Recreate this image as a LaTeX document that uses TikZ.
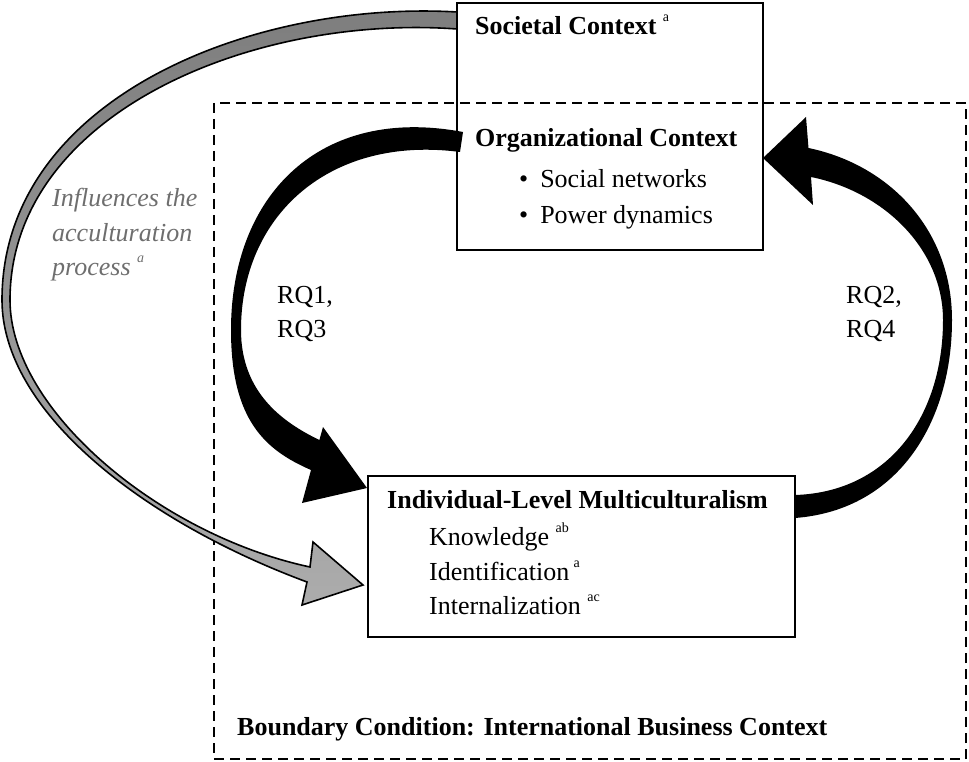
\documentclass[tikz,border=0pt]{standalone}
\usepackage{fontspec}
\setmainfont{Liberation Serif}
\definecolor{garrowtop}{RGB}{125,125,125}
\definecolor{garrowbot}{RGB}{172,172,172}
\definecolor{infltext}{RGB}{110,110,110}
\newcommand\mysup[1]{\raisebox{0.5em}{\fontsize{14}{14}\selectfont #1}}
\begin{document}
\begin{tikzpicture}[x=1pt,y=-1pt,
  box/.style={draw, line width=1.8pt, inner sep=0pt},
  boundbox/.style={draw, line width=2.2pt, dash pattern=on 10pt off 6pt, inner sep=0pt},
  txt/.style={inner sep=0pt, anchor=base west, font=\fontsize{26}{30}\selectfont},
  btxt/.style={txt, font=\fontsize{26}{30}\selectfont\bfseries},
  itxt/.style={txt, font=\fontsize{26}{30}\selectfont\itshape, text=infltext}]
\useasboundingbox (0,0) rectangle (969,762);

% boundary
\node[boundbox, minimum width=752pt, minimum height=656pt] (bnd) at (590,431) {};

% gray arrow
\shadedraw[top color=garrowtop, bottom color=garrowbot, draw=black, line width=1.6pt, line join=miter]
 (457,12) .. controls (250,0) and (2,100) .. (2,300)
 .. controls (2,410) and (140,520) .. (307,582)
 -- (302,605) -- (363,585) -- (313,542) -- (310,567)
 .. controls (160,535) and (10,410) .. (10,300)
 .. controls (10,115) and (250,14) .. (457,29) -- cycle;

% left black arrow
\fill[black] (463,132) .. controls (320,105) and (231,195) .. (231,330)
 .. controls (231,420) and (265,450) .. (311,470)
 -- (302,503) -- (367,488) -- (323,427) -- (319.4,440)
 .. controls (282,422) and (241,392) .. (241,330)
 .. controls (241,215) and (330,135) .. (460,152) -- cycle;

% right black arrow
\fill[black] (795,518) .. controls (900,510) and (952,420) .. (952,320)
 .. controls (952,230) and (890,165) .. (808.5,148)
 -- (806,117) -- (763,158) -- (813,205) -- (811,177)
 .. controls (885,192) and (943,250) .. (943,320)
 .. controls (943,415) and (890,492) .. (795,495) -- cycle;

% boxes
\node[box, minimum width=306pt, minimum height=247pt] (soc) at (610,126.5) {};
\node[box, minimum width=427pt, minimum height=161pt] (ind) at (581.5,556.5) {};

% texts
\node[btxt] (soct) at (475,35) {Societal Context \mysup{\mdseries a}};
\node[btxt] (orgt) at (475,147) {Organizational Context};
\node[txt] (b1) at (519,188) {\textbullet\hspace{12pt}Social networks};
\node[txt] (b2) at (519,223) {\textbullet\hspace{12pt}Power dynamics};

\node[btxt] (indt) at (387,508) {Individual-Level Multiculturalism};
\node[txt] (k1) at (429,545) {Knowledge \mysup{ab}};
\node[txt] (k2) at (429,580) {Identification\,\mysup{a}};
\node[txt] (k3) at (429,614) {Internalization \mysup{ac}};

\node[txt] (rq1) at (277,303) {RQ1,};
\node[txt] (rq3) at (277,337) {RQ3};
\node[txt] (rq2) at (846,303) {RQ2,};
\node[txt] (rq4) at (846,337) {RQ4};

\node[itxt] (in1) at (52,207) {Influences the};
\node[itxt] (in2) at (52,241) {acculturation};
\node[itxt] (in3) at (52,275) {process \mysup{a}};

\node[btxt] (bct) at (237,735) {Boundary Condition: International Business Context};
\end{tikzpicture}
\end{document}
